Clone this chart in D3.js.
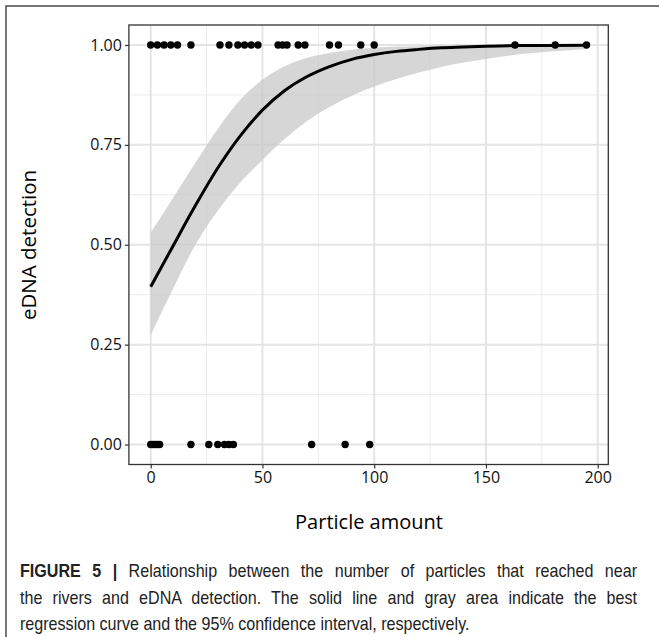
<!DOCTYPE html>
<html>
<head>
<meta charset="utf-8">
<script src="https://cdn.jsdelivr.net/npm/d3@7"></script>
<style>
  body { margin: 0; background: #fff; }
  svg { display: block; }
</style>
</head>
<body>
<svg id="chart" width="659" height="637"></svg>
<script>
//--data--//
// particle amounts where eDNA was detected (1) / not detected (0)
var detectedX   = [0, 3, 6, 9, 12, 18, 31, 35, 39, 42, 45, 48, 57, 59, 61, 66, 69, 80, 84, 94, 100, 163, 181, 195];
var undetectedX = [0, 1, 2, 3, 4, 18, 26, 30, 33, 35, 37, 72, 87, 98];

// regression curve and 95% band
var fitX    = [0, 10, 20, 30, 40, 50, 60, 70, 80, 90, 100, 110, 120, 130, 140, 150, 160, 170, 180, 195];
var fitY    = [0.395, 0.497, 0.598, 0.692, 0.772, 0.837, 0.886, 0.921, 0.946, 0.964, 0.976, 0.984, 0.989, 0.993, 0.995, 0.997, 0.998, 0.999, 0.999, 0.9995];
var fitLow  = [0.274, 0.39, 0.50, 0.585, 0.655, 0.712, 0.765, 0.81, 0.845, 0.873, 0.896, 0.915, 0.931, 0.945, 0.956, 0.965, 0.973, 0.979, 0.984, 0.990];
var fitHigh = [0.530, 0.617, 0.705, 0.79, 0.862, 0.913, 0.947, 0.968, 0.980, 0.988, 0.993, 0.996, 0.997, 0.998, 0.999, 0.999, 1.0, 1.0, 1.0, 1.0];

var xTicks = [0, 50, 100, 150, 200];
var xMinor = [25, 75, 125, 175];
var yTicks = [0, 0.25, 0.5, 0.75, 1];
var yMinor = [0.125, 0.375, 0.625, 0.875];

var captionLines = [
    ["FIGURE 5 | ", "Relationship between the number of particles that reached near"],
    ["", "the rivers and eDNA detection. The solid line and gray area indicate the best"],
    ["", "regression curve and the 95% confidence interval, respectively."]
];
//--data--//

var svg = d3.select("#chart");

//--outer frame--//
svg.append("rect")
    .attr("x", 6).attr("y", 6)
    .attr("width", 720).attr("height", 720)
    .attr("fill", "none")
    .attr("stroke", "#4a4a4a")
    .attr("stroke-width", 1.5);

//--scales--//
var x = d3.scaleLinear().domain([-9.75, 204.75]).range([128.9, 608.3]);
var y = d3.scaleLinear().domain([-0.05, 1.05]).range([464.5, 25]);

var plot = svg.append("g");

//--grid--//
plot.selectAll(".vminor").data(xMinor).enter().append("line")
    .attr("x1", d => x(d)).attr("x2", d => x(d))
    .attr("y1", y.range()[0]).attr("y2", y.range()[1])
    .attr("stroke", "#ececec").attr("stroke-width", 1);
plot.selectAll(".hminor").data(yMinor).enter().append("line")
    .attr("y1", d => y(d)).attr("y2", d => y(d))
    .attr("x1", x.range()[0]).attr("x2", x.range()[1])
    .attr("stroke", "#ececec").attr("stroke-width", 1);
plot.selectAll(".vmajor").data(xTicks).enter().append("line")
    .attr("x1", d => x(d)).attr("x2", d => x(d))
    .attr("y1", y.range()[0]).attr("y2", y.range()[1])
    .attr("stroke", "#e4e4e4").attr("stroke-width", 2);
plot.selectAll(".hmajor").data(yTicks).enter().append("line")
    .attr("y1", d => y(d)).attr("y2", d => y(d))
    .attr("x1", x.range()[0]).attr("x2", x.range()[1])
    .attr("stroke", "#e4e4e4").attr("stroke-width", 2);

//--confidence band--//
var fit = fitX.map((d, i) => ({x: d, y: fitY[i], lo: fitLow[i], hi: fitHigh[i]}));

plot.append("path")
    .datum(fit)
    .attr("fill", "#c8c8c8")
    .attr("fill-opacity", 0.75)
    .attr("d", d3.area()
        .curve(d3.curveMonotoneX)
        .x(d => x(d.x))
        .y0(d => y(d.lo))
        .y1(d => y(d.hi)));

//--regression line--//
plot.append("path")
    .datum(fit)
    .attr("fill", "none")
    .attr("stroke", "#000")
    .attr("stroke-width", 3)
    .attr("d", d3.line()
        .curve(d3.curveMonotoneX)
        .x(d => x(d.x))
        .y(d => y(d.y)));

//--points--//
var pts = detectedX.map(d => ({x: d, v: 1})).concat(undetectedX.map(d => ({x: d, v: 0})));
plot.selectAll("circle").data(pts).enter().append("circle")
    .attr("cx", d => x(d.x))
    .attr("cy", d => y(d.v))
    .attr("r", 3.7)
    .attr("fill", "#000");

//--panel border--//
plot.append("rect")
    .attr("x", x.range()[0]).attr("y", y.range()[1])
    .attr("width", x.range()[1] - x.range()[0])
    .attr("height", y.range()[0] - y.range()[1])
    .attr("fill", "none")
    .attr("stroke", "#333")
    .attr("stroke-width", 1.3);

//--axes--//
var xAxis = svg.append("g")
    .attr("transform", `translate(0,${y.range()[0]})`)
    .call(d3.axisBottom(x).tickValues(xTicks).tickSize(4).tickPadding(3));

var yAxis = svg.append("g")
    .attr("transform", `translate(${x.range()[0]},0)`)
    .call(d3.axisLeft(y).tickValues(yTicks).tickFormat(d3.format(".2f")).tickSize(4).tickPadding(3));

[xAxis, yAxis].forEach(function(a) {
    a.select(".domain").remove();
    a.selectAll(".tick line").attr("stroke", "#333").attr("stroke-width", 1.2);
    a.selectAll(".tick text")
        .attr("fill", "#111")
        .style("font-family", "'Open Sans', sans-serif")
        .style("font-size", "16px");
});

//--axis titles--//
svg.append("text")
    .attr("x", 369).attr("y", 529)
    .attr("text-anchor", "middle")
    .style("font-family", "'Open Sans', sans-serif")
    .style("font-size", "20px")
    .attr("fill", "#000")
    .text("Particle amount");

svg.append("text")
    .attr("transform", "translate(36,245) rotate(-90)")
    .attr("text-anchor", "middle")
    .style("font-family", "'Open Sans', sans-serif")
    .style("font-size", "20.5px")
    .attr("fill", "#000")
    .text("eDNA detection");

//--caption (justified, last line left ragged)--//
var capText = captionLines.map(function(line, i) {
    var g = svg.append("g").attr("transform", `translate(20,${577 + i * 26.5})`);
    var t = g.append("text")
        .style("font-family", "'Liberation Sans', Arial, sans-serif")
        .style("font-size", "17.5px")
        .attr("fill", "#222");
    if (line[0]) t.append("tspan").style("font-weight", "bold").text(line[0]);
    t.append("tspan").text(line[1]);
    return {g: g, t: t, words: (line[0] + line[1]).trim().split(/\s+/).length};
});
// slightly narrow glyphs; last line ends near x = 470
var last = capText[capText.length - 1];
var squeeze = 450 / last.t.node().getComputedTextLength();
capText.forEach(function(c, i) {
    c.g.attr("transform", c.g.attr("transform") + ` scale(${squeeze},1)`);
    if (i < capText.length - 1) {
        var extra = 617 / squeeze - c.t.node().getComputedTextLength();
        c.t.attr("word-spacing", Math.max(0, extra / (c.words - 1)));
    }
});
</script>
</body>
</html>
